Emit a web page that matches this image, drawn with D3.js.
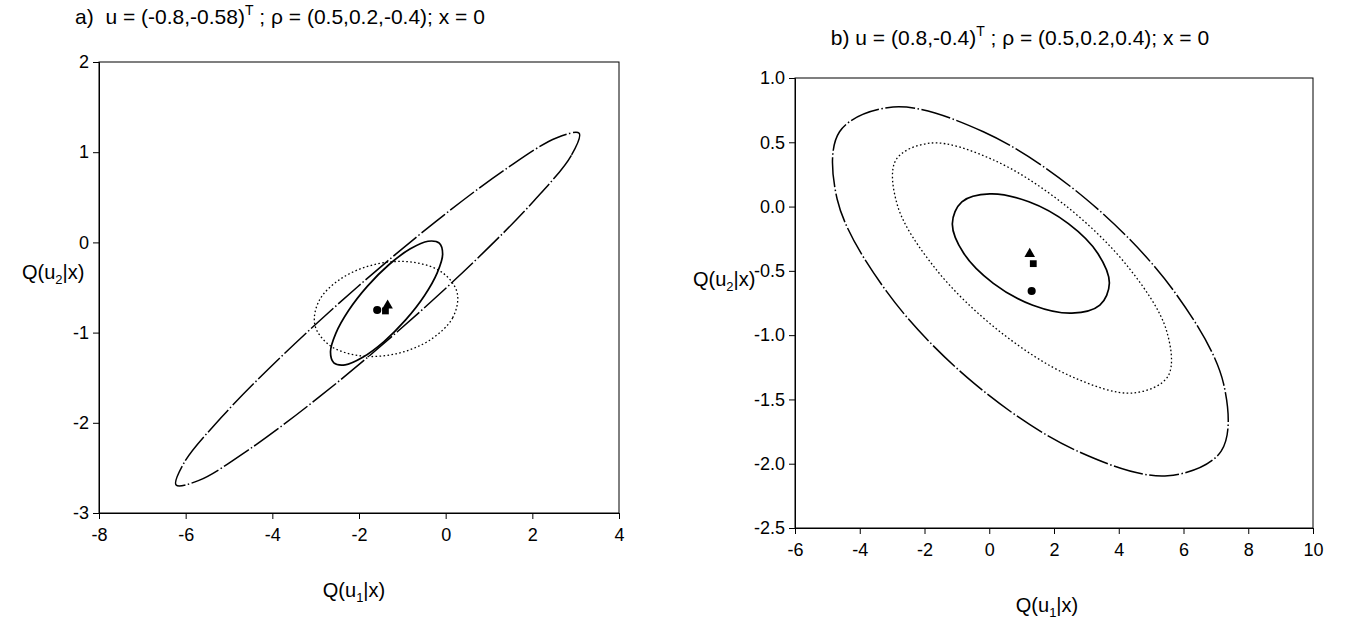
<!DOCTYPE html>
<html><head><meta charset="utf-8">
<script src="https://cdn.jsdelivr.net/npm/d3@7"></script>
<style>
body{margin:0;background:#fff}
svg text{font-family:"Liberation Sans",Arial,Helvetica,sans-serif;fill:#000}
</style>
</head><body>
<svg id="chart" width="1350" height="621"></svg>
<script>
// ---------- Panel a data ----------
const aXTicks = [-8, -6, -4, -2, 0, 2, 4];
const aYTicks = [-3, -2, -1, 0, 1, 2];
const aDashDot = [[3.08,1.21],[2.901,0.966],[2.039,0.462],[0.63,-0.225],[-1.116,-0.991],[-2.932,-1.719],[-4.537,-2.296],[-5.693,-2.638],[-6.22,-2.69],[-6.041,-2.446],[-5.179,-1.942],[-3.77,-1.255],[-2.024,-0.489],[-0.208,0.239],[1.397,0.816],[2.553,1.158]];
const aSolid = [[-0.147,-0.009],[-0.07,-0.131],[-0.193,-0.335],[-0.491,-0.591],[-0.924,-0.859],[-1.423,-1.099],[-1.913,-1.273],[-2.32,-1.357],[-2.581,-1.335],[-2.658,-1.213],[-2.535,-1.009],[-2.237,-0.753],[-1.804,-0.485],[-1.305,-0.245],[-0.815,-0.071],[-0.408,0.013]];
const aDotted = [[0.267,-0.562],[0.162,-0.835],[-0.355,-1.08],[-1.146,-1.235],[-1.999,-1.256],[-2.684,-1.139],[-3.019,-0.914],[-2.914,-0.641],[-2.397,-0.396],[-1.606,-0.241],[-0.753,-0.22],[-0.068,-0.337]];
const aCircle = [-1.58, -0.75];
const aSquare = [-1.39, -0.76];
const aTriangle = [-1.34, -0.70];

// ---------- Panel b data ----------
const bXTicks = [-6, -4, -2, 0, 2, 4, 6, 8, 10];
const bYTicks = [-2.5, -2.0, -1.5, -1.0, -0.5, 0.0, 0.5, 1.0];
const bDashDot = [[-2.971,0.774],[-0.182,0.582],[2.997,0.057],[5.712,-0.66],[7.237,-1.377],[7.164,-1.902],[5.511,-2.094],[2.722,-1.902],[-0.457,-1.377],[-3.172,-0.66],[-4.697,0.057],[-4.624,0.582]];
const bDotted = [[-1.80,0.494],[0.116,0.364],[2.354,0.008],[4.316,-0.478],[5.474,-0.964],[5.52,-1.32],[4.44,-1.45],[2.524,-1.32],[0.286,-0.964],[-1.676,-0.478],[-2.834,0.008],[-2.88,0.364]];
const bSolid = [[0.019,0.099],[1.224,0.037],[2.444,-0.133],[3.354,-0.365],[3.71,-0.597],[3.416,-0.767],[2.551,-0.829],[1.346,-0.767],[0.126,-0.597],[-0.784,-0.365],[-1.14,-0.133],[-0.846,0.037]];
const bCircle = [1.31, -0.657];
const bSquare = [1.36, -0.444];
const bTriangle = [1.25, -0.368];

const svg = d3.select("#chart");

function panel(cfg) {
  const x = d3.scaleLinear().domain(cfg.xDomain).range([cfg.left, cfg.right]);
  const y = d3.scaleLinear().domain(cfg.yDomain).range([cfg.bottom, cfg.top]);
  const g = svg.append("g");

  g.append("rect").attr("x", cfg.left).attr("y", cfg.top)
    .attr("width", cfg.right - cfg.left).attr("height", cfg.bottom - cfg.top)
    .attr("fill", "none").attr("stroke", "#000").attr("stroke-width", 1);

  const xAxis = g.append("g").attr("transform", `translate(0,${cfg.bottom})`)
    .call(d3.axisBottom(x).tickValues(cfg.xTicks).tickSize(6).tickPadding(9).tickFormat(cfg.xFmt));
  const yAxis = g.append("g").attr("transform", `translate(${cfg.left},0)`)
    .call(d3.axisLeft(y).tickValues(cfg.yTicks).tickSize(6).tickPadding(4).tickFormat(cfg.yFmt));
  [xAxis, yAxis].forEach(ax => {
    ax.select(".domain").attr("stroke", "#000");
    ax.selectAll(".tick line").attr("stroke", "#000");
    ax.selectAll(".tick text").attr("font-size", 18).attr("fill", "#000")
      .attr("font-family", '"Liberation Sans",Arial,sans-serif');
  });

  const line = d3.line().x(d => x(d[0])).y(d => y(d[1])).curve(d3.curveCatmullRomClosed.alpha(0.5));
  g.append("path").datum(cfg.dashDot).attr("d", line).attr("fill", "none")
    .attr("stroke", "#000").attr("stroke-width", 1.5).attr("stroke-dasharray", "30,2.5,1.5,2.5");
  g.append("path").datum(cfg.dotted).attr("d", line).attr("fill", "none")
    .attr("stroke", "#000").attr("stroke-width", 1.3).attr("stroke-dasharray", "1.6,2.4");
  g.append("path").datum(cfg.solid).attr("d", line).attr("fill", "none")
    .attr("stroke", "#000").attr("stroke-width", 1.7);

  const sym = (type, size, p) => g.append("path")
    .attr("d", d3.symbol().type(type).size(size)())
    .attr("transform", `translate(${x(p[0])},${y(p[1])})`).attr("fill", "#000");
  sym(d3.symbolCircle, 52, cfg.circle);
  sym(d3.symbolSquare, 46, cfg.square);
  sym(d3.symbolTriangle, 48, cfg.triangle);

  const xt = g.append("text").attr("x", cfg.xTitleX).attr("y", cfg.xTitleY)
    .attr("text-anchor", "middle").attr("font-size", 20);
  xt.append("tspan").text("Q(u");
  xt.append("tspan").attr("font-size", 13).attr("dy", 5).text("1");
  xt.append("tspan").attr("dy", -5).text("|x)");
  const yt = g.append("text").attr("x", cfg.yTitleX).attr("y", cfg.yTitleY)
    .attr("text-anchor", "start").attr("font-size", 20);
  yt.append("tspan").text("Q(u");
  yt.append("tspan").attr("font-size", 13).attr("dy", 5).text("2");
  yt.append("tspan").attr("dy", -5).text("|x)");

  const t = g.append("text").attr("x", cfg.titleX).attr("y", cfg.titleY)
    .attr("text-anchor", "middle").attr("font-size", 21).attr("xml:space", "preserve");
  t.append("tspan").text(cfg.title1);
  t.append("tspan").attr("font-size", 14).attr("dy", -9).text("T");
  t.append("tspan").attr("dy", 9).text(cfg.title2);
}

panel({
  xDomain: [-8, 4], yDomain: [-3, 2], left: 99, right: 619, top: 62, bottom: 513,
  xTicks: aXTicks, yTicks: aYTicks, xFmt: d => String(d), yFmt: d => String(d),
  dashDot: aDashDot, dotted: aDotted, solid: aSolid,
  circle: aCircle, square: aSquare, triangle: aTriangle,
  xTitleX: 354, xTitleY: 597, yTitleX: 22, yTitleY: 279,
  titleX: 280, titleY: 24,
  title1: "a)  u = (-0.8,-0.58)", title2: " ; \u03c1 = (0.5,0.2,-0.4); x = 0"
});

panel({
  xDomain: [-6, 10], yDomain: [-2.5, 1.0], left: 795, right: 1313, top: 78, bottom: 528,
  xTicks: bXTicks, yTicks: bYTicks, xFmt: d => String(d), yFmt: d => d.toFixed(1),
  dashDot: bDashDot, dotted: bDotted, solid: bSolid,
  circle: bCircle, square: bSquare, triangle: bTriangle,
  xTitleX: 1047, xTitleY: 612, yTitleX: 693, yTitleY: 286,
  titleX: 1020, titleY: 45,
  title1: "b) u = (0.8,-0.4)", title2: " ; \u03c1 = (0.5,0.2,0.4); x = 0"
});
</script>
</body></html>
